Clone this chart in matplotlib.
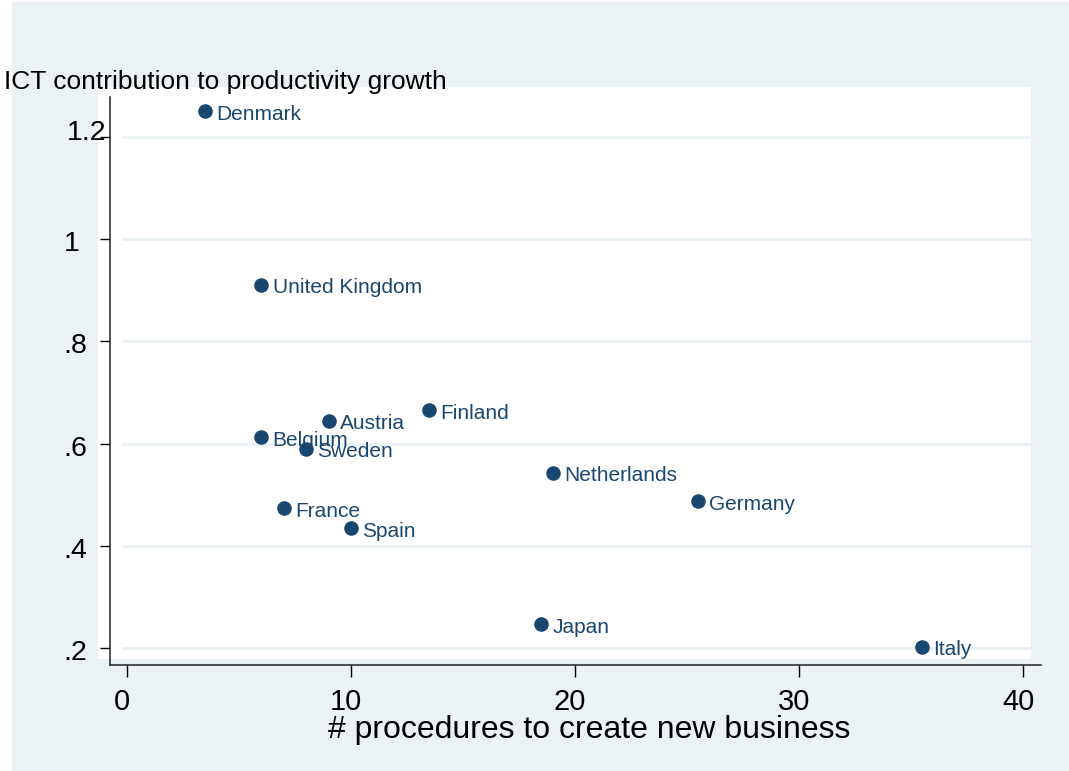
import matplotlib
matplotlib.use("Agg")
import matplotlib.pyplot as plt
from matplotlib.patches import Rectangle
from matplotlib.transforms import ScaledTranslation

plt.rcParams['font.family'] = ['Liberation Sans', 'DejaVu Sans']

# data
countries = ["Denmark", "United Kingdom", "Austria", "Finland", "Belgium", "Sweden",
             "Netherlands", "Germany", "France", "Spain", "Japan", "Italy"]
procedures = [3.5, 6, 9, 13.5, 6, 8, 19, 25.5, 7, 10, 18.5, 35.5]
ict_contrib = [1.25, 0.91, 0.645, 0.665, 0.612, 0.59, 0.543, 0.487, 0.473, 0.434, 0.246, 0.202]

xticks = [0, 10, 20, 30, 40]
yticks = [0.2, 0.4, 0.6, 0.8, 1.0, 1.2]
ytick_labels = [".2", ".4", ".6", ".8", "1", "1.2"]

bg = '#eaf2f3'
navy = '#1a476f'
W, H = 1069, 771

fig = plt.figure(figsize=(W / 100, H / 100), dpi=100)
fig.patch.set_facecolor('white')
# outer grey-blue panel and white plot region (stata look), kept behind the axes
fig.patches.append(Rectangle((12 / W, 0), 1, 1 - 2 / H, transform=fig.transFigure,
                             facecolor=bg, edgecolor='none', zorder=-20))
fig.patches.append(Rectangle((98 / W, 1 - 659 / H), 933 / W, 572 / H, transform=fig.transFigure,
                             facecolor='white', edgecolor='none', zorder=-10))

ax = fig.add_axes([110 / W, 1 - 665 / H, 931 / W, 568 / H])
ax.set_facecolor('none')
ax.set_xlim(-0.76, 40.8)
ax.set_ylim(0.1667, 1.2783)

ax.hlines(yticks, -0.22, 40.36, colors=bg, linewidth=2.2, zorder=1)

ax.scatter(procedures, ict_contrib, s=110, color=navy, zorder=3, linewidths=0)
for name, x, y in zip(countries, procedures, ict_contrib):
    ax.annotate(name, (x, y), xytext=(8, -2), textcoords='offset points',
                va='center', ha='left', fontsize=15, color=navy, zorder=4)

for s in ['top', 'right']:
    ax.spines[s].set_visible(False)
for s in ['left', 'bottom']:
    ax.spines[s].set_linewidth(1.1)
    ax.spines[s].set_color('#222222')

ax.set_xticks(xticks)
ax.set_xticklabels([str(t) for t in xticks])
ax.set_yticks(yticks)
ax.set_yticklabels(ytick_labels, ha='left')
ax.tick_params(axis='x', length=8.5, width=1, pad=8, labelsize=21, direction='out')
ax.tick_params(axis='y', length=7, width=1, pad=26.5, labelsize=20.5, direction='out')

# small nudges so the tick labels sit where stata put them
for lab in ax.get_xticklabels():
    lab.set_transform(lab.get_transform() + ScaledTranslation(-5 / 100, 0, fig.dpi_scale_trans))
for lab in ax.get_yticklabels():
    dy = 7 / 100 if lab.get_text() == "1.2" else -2 / 100
    dx = 3 / 100 if lab.get_text() == "1.2" else 0
    lab.set_transform(lab.get_transform() + ScaledTranslation(dx, dy, fig.dpi_scale_trans))

fig.text(4 / W, 1 - 89 / H, "ICT contribution to productivity growth",
         fontsize=19, ha='left', va='baseline')
fig.text(589 / W, 1 - 738 / H, "# procedures to create new business",
         fontsize=23, ha='center', va='baseline')

fig.savefig("out.png", dpi=100)
